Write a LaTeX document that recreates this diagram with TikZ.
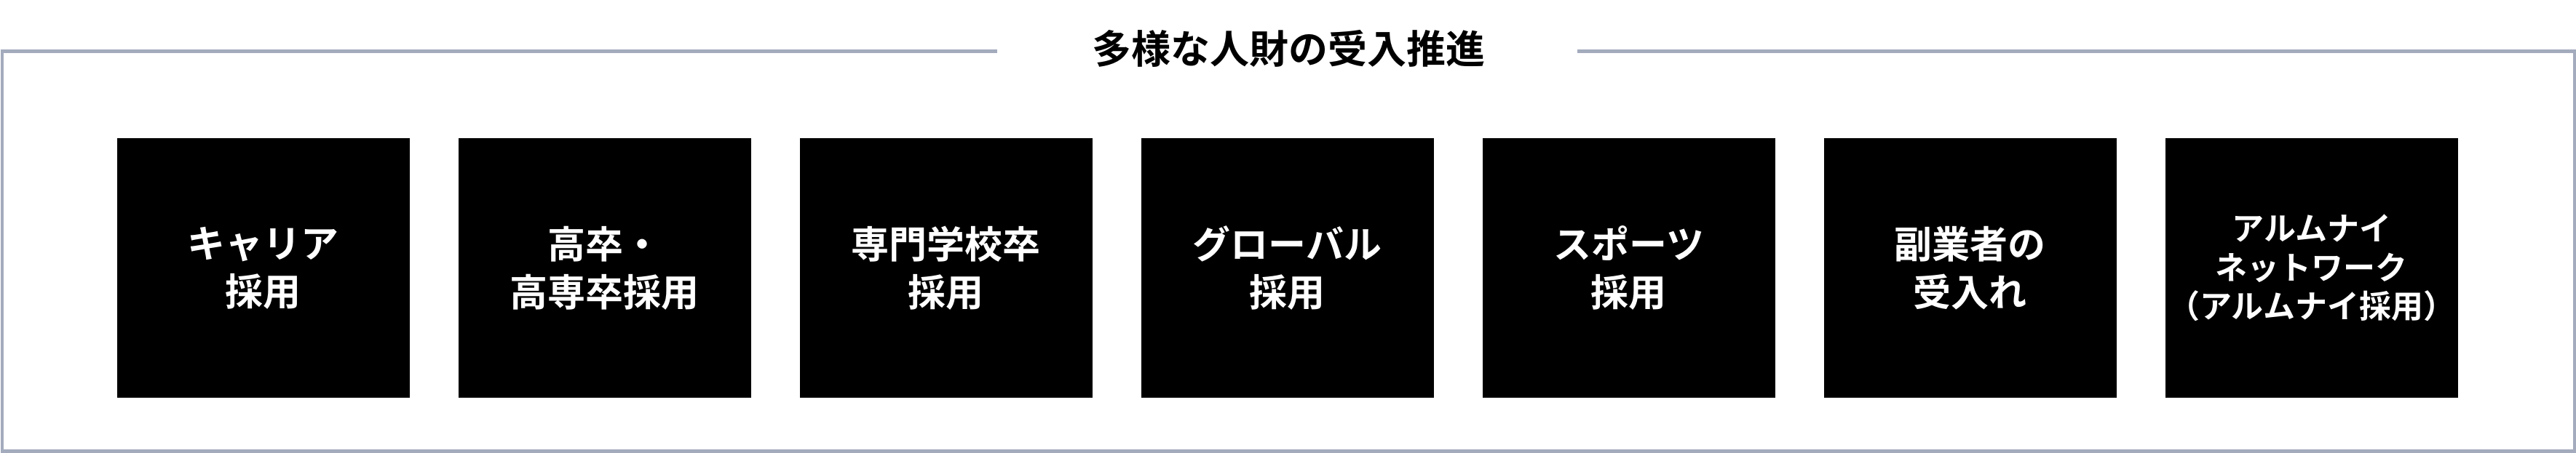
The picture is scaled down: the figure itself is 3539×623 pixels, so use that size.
\documentclass[tikz,border=0pt]{standalone}
\usepackage{fontspec}
\setmainfont{Noto Sans CJK JP}[BoldFont={* Bold}]
\definecolor{framegray}{RGB}{163,171,189}
\begin{document}
\begin{tikzpicture}[x=1pt,y=-1pt,
  pbox/.style={fill=black,text=white,minimum width=402pt,minimum height=357pt,inner sep=0pt,align=center,font=\fontsize{52}{66}\selectfont\bfseries},
  pboxs/.style={pbox,font=\fontsize{44}{53.5}\selectfont\bfseries},
  frameline/.style={draw=framegray,line width=4.5pt},
  titlefont/.style={font=\fontsize{54}{60}\selectfont\bfseries,inner sep=0pt}]
\useasboundingbox (0,0) rectangle (3539,623);
\coordinate (gl) at (1370,70.5);
\coordinate (gr) at (2167,70.5);
\draw[frameline] (gl) -- (3,70.5) -- (3,620.5) -- (3537,620.5) -- (3537,70.5) -- (gr);
\node[titlefont] (title) at (1770,67) {多様な人財の受入推進};
\node[pbox] (b1) at (361.7,368.5) {キャリア\\採用};
\node[pbox] (b2) at (830.7,368.5) {高卒・\\高専卒採用};
\node[pbox] (b3) at (1299.7,368.5) {専門学校卒\\採用};
\node[pbox] (b4) at (1768.7,368.5) {グローバル\\採用};
\node[pbox] (b5) at (2237.7,368.5) {スポーツ\\採用};
\node[pbox] (b6) at (2706.7,368.5) {副業者の\\受入れ};
\node[pboxs] (b7) at (3175.7,368.5) {アルムナイ\\ネットワーク\\（アルムナイ採用）};
\end{tikzpicture}
\end{document}
